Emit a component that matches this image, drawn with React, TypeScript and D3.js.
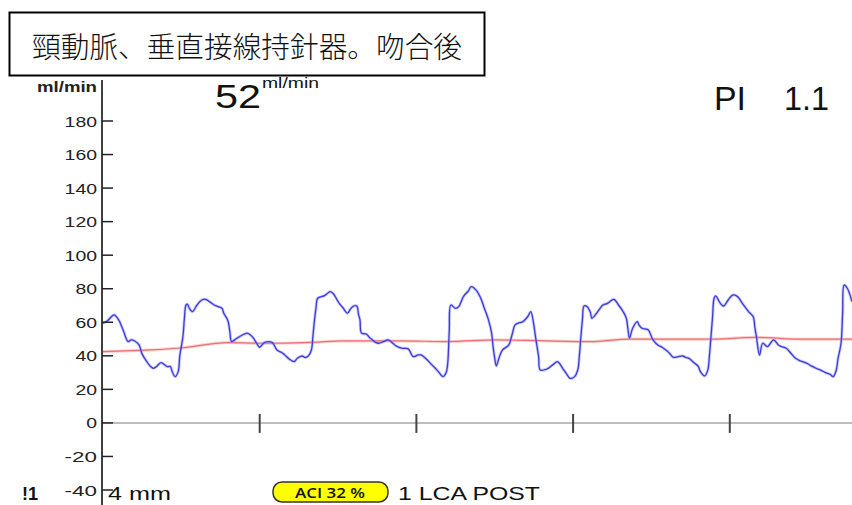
import React from "react";
import * as d3 from "d3";

const W = 852;
const H = 505;

// Title and annotation texts
const titleText = "頸動脈、垂直接線持針器。吻合後";
const flowValue = "52";
const flowUnit = "ml/min";
const piLabel = "PI";
const piValue = "1.1";
const axisUnit = "ml/min";
const bottomLeft = "!1";
const depthLabel = "4 mm";
const badgeText = "ACI 32 %";
const probeLabel = "1 LCA POST";

// Y axis ticks
const yTicks = [-40, -20, 0, 20, 40, 60, 80, 100, 120, 140, 160, 180];
// time ticks on the zero line (seconds)
const timeTicks = [1, 2, 3, 4];

// Blue flow waveform: time (s) and flow (ml/min)
const flowTime = [
  0.0, 0.03, 0.07, 0.1, 0.13, 0.16, 0.18, 0.2, 0.23, 0.25, 0.28, 0.3, 0.32, 0.34, 0.37, 0.41, 0.43, 0.44, 0.46, 0.48,
  0.49, 0.51, 0.52, 0.53, 0.54, 0.55, 0.57, 0.6, 0.62, 0.64, 0.66, 0.68, 0.71, 0.73, 0.76, 0.77, 0.79, 0.8, 0.81, 0.82,
  0.84, 0.87, 0.92, 0.94, 0.96, 0.98, 1.0, 1.03, 1.08, 1.11, 1.14, 1.16, 1.19, 1.22, 1.24, 1.27, 1.29, 1.31, 1.33, 1.34,
  1.35, 1.36, 1.37, 1.41, 1.43, 1.45, 1.47, 1.49, 1.51, 1.53, 1.56, 1.58, 1.6, 1.62, 1.63, 1.64, 1.65, 1.68, 1.7, 1.72,
  1.74, 1.76, 1.79, 1.82, 1.85, 1.87, 1.91, 1.93, 1.95, 1.98, 2.01, 2.03, 2.07, 2.09, 2.11, 2.14, 2.17, 2.19, 2.2, 2.21,
  2.22, 2.25, 2.27, 2.3, 2.33, 2.35, 2.38, 2.41, 2.43, 2.46, 2.48, 2.49, 2.5, 2.51, 2.53, 2.55, 2.59, 2.61, 2.63, 2.65,
  2.68, 2.71, 2.73, 2.75, 2.76, 2.78, 2.79, 2.83, 2.87, 2.9, 2.94, 2.96, 2.98, 3.01, 3.03, 3.04, 3.05, 3.06, 3.07, 3.09,
  3.11, 3.12, 3.15, 3.17, 3.19, 3.22, 3.26, 3.29, 3.32, 3.34, 3.35, 3.36, 3.38, 3.41, 3.42, 3.44, 3.46, 3.48, 3.51, 3.54,
  3.57, 3.6, 3.62, 3.64, 3.67, 3.7, 3.72, 3.74, 3.77, 3.8, 3.81, 3.84, 3.86, 3.87, 3.88, 3.89, 3.9, 3.91, 3.94, 3.96,
  3.99, 4.02, 4.05, 4.08, 4.12, 4.15, 4.16, 4.17, 4.19, 4.21, 4.24, 4.28, 4.31, 4.33, 4.36, 4.39, 4.42, 4.45, 4.49, 4.52,
  4.55, 4.58, 4.61, 4.64, 4.66, 4.68, 4.69, 4.71, 4.72, 4.73, 4.75, 4.78,
];
const flowValues = [
  59.4, 61, 64.4, 61.4, 55, 48.5, 49.5, 49, 46.5, 41, 36.5, 34, 32.6, 33.5, 35.9, 33.6, 33.6, 31, 27.6, 30.6,
  40, 51.4, 63, 70.3, 70.7, 68.5, 66.3, 70.3, 72.5, 73.7, 73.5, 72.3, 70.3, 69.5, 68.3, 65.5, 62.4, 60, 54, 48.5,
  49.5, 51.4, 53.5, 52.5, 50.5, 47.5, 45.1, 47.9, 47.9, 43.5, 42, 40.5, 38, 36.5, 38.5, 39.9, 39, 39.9, 43.5, 52,
  61.4, 69, 74.3, 75.7, 77, 78.3, 77, 74, 71, 68.8, 65.4, 68, 69.7, 69.7, 65, 61.4, 53.5, 53, 51, 49.5,
  48, 47.5, 48.5, 49.5, 47.5, 45.9, 44.5, 44.5, 44, 39.5, 40.5, 40.5, 37.5, 35.5, 33.6, 30.6, 27.6, 30, 35.6, 55.4,
  70.3, 68.3, 69.3, 75.3, 78.5, 81.2, 79.3, 74.5, 69.3, 61.4, 53.5, 45, 38.5, 34, 39.5, 43.5, 46.5, 52.4, 58.4, 59.5,
  60.4, 63.3, 66.3, 58, 51.4, 39.5, 31.6, 32, 34.6, 36.5, 31.6, 29, 26.6, 27.6, 31.6, 40, 51.4, 62, 69.7, 69.3,
  66, 62.4, 65.4, 68, 70.3, 71.3, 73.7, 70.3, 66.3, 62.4, 56, 50.5, 56.4, 60.4, 58.5, 56.4, 56, 55.4, 49.5, 46.5,
  45, 42.9, 41, 39.1, 39.5, 39.9, 39, 38.5, 36, 33.6, 31, 28, 31.6, 40, 51.4, 63, 74.3, 75.7, 71.3, 69.7,
  73.3, 76.3, 75.3, 71.3, 66.3, 63.3, 57, 51.4, 40.5, 47.5, 45.5, 49.5, 46.5, 45.5, 44.5, 41.5, 38.5, 37, 35.6, 34,
  32.6, 31.5, 30, 29, 27.6, 31.6, 38, 47.5, 65, 82.2, 80.3, 72.3,
];

// Red mean-flow trend line
const meanTime = [0.0, 0.3, 0.48, 0.8, 1.0, 1.33, 1.53, 1.9, 2.2, 2.51, 2.79, 3.11, 3.36, 3.87, 4.17, 4.46, 4.78];
const meanValues = [42.5, 43.5, 44.5, 47.9, 47.5, 48, 48.9, 48.9, 48.5, 49.5, 49, 48.5, 50, 49.9, 51, 49.9, 49.9];

const SANS = "'Liberation Sans', Arial, sans-serif";

export default function App() {
  const x = d3.scaleLinear().domain([0, 4.78]).range([103, 852]);
  const y = d3.scaleLinear().domain([-40, 180]).range([490, 121]);

  const flowPts: [number, number][] = flowTime.map((t, i) => [t, flowValues[i]]);
  const meanPts: [number, number][] = meanTime.map((t, i) => [t, meanValues[i]]);

  const flowLine = d3
    .line<[number, number]>()
    .x((d) => x(d[0]))
    .y((d) => y(d[1]))
    .curve(d3.curveCatmullRom.alpha(0.5));
  const meanLine = d3
    .line<[number, number]>()
    .x((d) => x(d[0]))
    .y((d) => y(d[1]))
    .curve(d3.curveMonotoneX);

  const axisX = 102;

  return (
    <svg
      width={W}
      height={H}
      viewBox={`0 0 ${W} ${H}`}
      style={{ position: "absolute", left: 0, top: 0, background: "#fff" }}
    >
      <rect x={0} y={0} width={W} height={H} fill="#fff" />

      {/* Title box */}
      <rect x={9.5} y={12.5} width={475} height={63} fill="#fff" stroke="#000" strokeWidth={2} />
      <text
        x={32}
        y={58}
        fontFamily="'Noto Sans CJK JP', 'Noto Sans CJK SC', sans-serif"
        fontWeight={300}
        fontSize={29}
        textLength={430}
        lengthAdjust="spacingAndGlyphs"
        fill="#111"
      >
        {titleText}
      </text>

      {/* zero line */}
      <line x1={axisX} x2={W} y1={y(0)} y2={y(0)} stroke="#bdbdbd" strokeWidth={2} />
      {timeTicks.map((t) => (
        <line key={t} x1={x(t)} x2={x(t)} y1={y(0) - 9} y2={y(0) + 10} stroke="#444" strokeWidth={2} />
      ))}

      {/* mean line */}
      <path d={meanLine(meanPts) || ""} fill="none" stroke="#f4a0a0" strokeWidth={3} opacity={0.5} />
      <path d={meanLine(meanPts) || ""} fill="none" stroke="#ee7070" strokeWidth={1.2} />

      {/* flow waveform */}
      <path d={flowLine(flowPts) || ""} fill="none" stroke="#9a9af0" strokeWidth={3} opacity={0.55} />
      <path d={flowLine(flowPts) || ""} fill="none" stroke="#3c3cd8" strokeWidth={1.3} />

      {/* y axis */}
      <line x1={axisX} x2={axisX} y1={80} y2={505} stroke="#000" strokeWidth={1.5} />
      {yTicks.map((v) => {
        const lab = String(v);
        return (
          <g key={v}>
            <line x1={axisX} x2={axisX + 11} y1={y(v)} y2={y(v)} stroke="#222" strokeWidth={1.5} />
            <text
              x={97}
              y={y(v) + 5.5}
              textAnchor="end"
              fontFamily={SANS}
              fontSize={15.5}
              fill="#222"
              textLength={lab.length * 10.8}
              lengthAdjust="spacingAndGlyphs"
            >
              {lab}
            </text>
          </g>
        );
      })}
      <text
        x={97}
        y={92}
        textAnchor="end"
        fontFamily={SANS}
        fontSize={14}
        fontWeight="bold"
        fill="#222"
        textLength={60}
        lengthAdjust="spacingAndGlyphs"
      >
        {axisUnit}
      </text>

      {/* flow value */}
      <text x={215} y={108} fontFamily={SANS} fontSize={34} fill="#111" textLength={46} lengthAdjust="spacingAndGlyphs">
        {flowValue}
      </text>
      <text x={262} y={88} fontFamily={SANS} fontSize={14} fill="#111" textLength={57} lengthAdjust="spacingAndGlyphs">
        {flowUnit}
      </text>

      {/* PI */}
      <text x={714} y={110} fontFamily={SANS} fontSize={34} fill="#111" textLength={32} lengthAdjust="spacingAndGlyphs">
        {piLabel}
      </text>
      <text x={784} y={110} fontFamily={SANS} fontSize={34} fill="#111" textLength={45} lengthAdjust="spacingAndGlyphs">
        {piValue}
      </text>

      {/* bottom row */}
      <text x={22} y={500} fontFamily={SANS} fontSize={18} fontWeight="bold" fill="#111">
        {bottomLeft}
      </text>
      <text x={108} y={500} fontFamily={SANS} fontSize={19} fill="#111" textLength={63} lengthAdjust="spacingAndGlyphs">
        {depthLabel}
      </text>
      <rect x={273} y={482} width={115} height={20} rx={9} ry={9} fill="#ffff00" stroke="#333" strokeWidth={1.5} />
      <text
        x={330}
        y={497.5}
        textAnchor="middle"
        fontFamily="'Open Sans', 'Liberation Sans', sans-serif"
        fontSize={15}
        fontWeight={600}
        fill="#111"
        textLength={70}
        lengthAdjust="spacingAndGlyphs"
      >
        {badgeText}
      </text>
      <text x={398} y={500} fontFamily={SANS} fontSize={19} fill="#111" textLength={142} lengthAdjust="spacingAndGlyphs">
        {probeLabel}
      </text>
    </svg>
  );
}
